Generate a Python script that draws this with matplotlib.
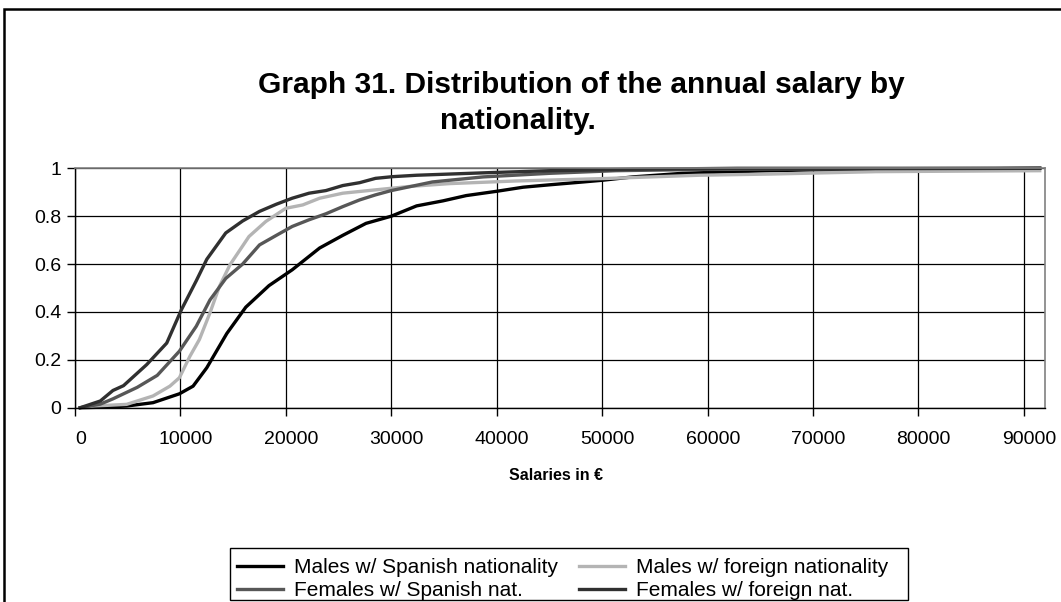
import matplotlib.pyplot as plt
from matplotlib.patches import Rectangle
from matplotlib.ticker import FixedLocator, NullFormatter

plt.rcParams['font.family'] = ['Liberation Sans', 'DejaVu Sans']

title_line1 = "Graph 31. Distribution of the annual salary by"
title_line2 = "nationality."
x_label = "Salaries in \u20ac"

# salary (EUR) and cumulative share
males_es_x = [0, 2000, 4400, 6900, 9400, 10700, 12000, 13900, 15700, 17900, 20100,
              22700, 24900, 27100, 29500, 31900, 34400, 36600, 39500, 42000, 44500,
              47700, 49500, 52400, 57100, 61500, 65500, 69500, 75500, 79500, 85500, 91000]
males_es_y = [0, 0.002, 0.007, 0.021, 0.058, 0.09, 0.167, 0.31, 0.42, 0.51, 0.576,
              0.667, 0.72, 0.77, 0.80, 0.843, 0.864, 0.886, 0.904, 0.921, 0.931,
              0.943, 0.95, 0.964, 0.979, 0.985, 0.99, 0.993, 0.995, 0.997, 0.998, 1.0]

males_fo_x = [0, 1300, 4400, 6900, 8500, 9400, 10400, 11300, 12300, 13200, 14200,
              16000, 17600, 19500, 21100, 22700, 24900, 28000, 31200, 35000, 41300,
              49500, 58700, 65500, 75500, 91000]
males_fo_y = [0, 0.007, 0.014, 0.049, 0.09, 0.125, 0.215, 0.285, 0.396, 0.507, 0.597,
              0.715, 0.778, 0.833, 0.847, 0.875, 0.896, 0.91, 0.924, 0.936, 0.947,
              0.957, 0.971, 0.976, 0.986, 0.99]

females_es_x = [0, 1900, 3100, 5400, 7300, 9400, 11000, 12300, 13800, 15400, 17000,
                18600, 20100, 21700, 23300, 24900, 26500, 28000, 29500, 33400, 38200,
                44500, 50800, 58700, 65500, 91000]
females_es_y = [0, 0.015, 0.037, 0.085, 0.135, 0.236, 0.34, 0.45, 0.54, 0.60, 0.68,
                0.72, 0.757, 0.785, 0.81, 0.84, 0.868, 0.889, 0.907, 0.943, 0.964,
                0.979, 0.99, 0.995, 0.997, 1.0]

females_fo_x = [0, 1900, 3100, 4100, 6300, 8200, 9600, 11000, 12000, 13800, 15400,
                17000, 18600, 20100, 21700, 23300, 24900, 26500, 28000, 29600, 31900,
                38200, 44500, 52400, 62300, 91000]
females_fo_y = [0, 0.028, 0.072, 0.092, 0.18, 0.27, 0.41, 0.53, 0.62, 0.73, 0.78,
                0.82, 0.85, 0.875, 0.896, 0.907, 0.928, 0.94, 0.958, 0.965, 0.971,
                0.981, 0.99, 0.996, 1.0, 1.0]

series_names = ["Males w/ Spanish nationality", "Males w/ foreign nationality",
                "Females w/ Spanish nat.", "Females w/ foreign nat."]
x_tick_values = list(range(0, 90001, 10000))
y_tick_values = [0, 0.2, 0.4, 0.6, 0.8, 1]

W, H = 1061, 602
fig = plt.figure(figsize=(W / 100, H / 100), dpi=100)
fig.patches.append(Rectangle((4 / W, -0.05), 1.2, 1.05 - 9 / H, transform=fig.transFigure,
                             fill=False, edgecolor='black', linewidth=1.8))

ax = fig.add_axes([75 / W, 1 - 407.7 / H, 970 / W, 239.4 / H])

h_ms, = ax.plot(males_es_x, males_es_y, color='#000000', lw=2.4, clip_on=False)
h_mf, = ax.plot(males_fo_x, males_fo_y, color='#b4b4b4', lw=2.4, clip_on=False)
h_fs, = ax.plot(females_es_x, females_es_y, color='#575757', lw=2.4, clip_on=False)
h_ff, = ax.plot(females_fo_x, females_fo_y, color='#303030', lw=2.4, clip_on=False)

# category-style axis: ticks and grid between categories, labels on them
ax.set_xlim(-500, 91500)
ax.set_ylim(0, 1)
ax.xaxis.set_major_locator(FixedLocator([v - 500 for v in x_tick_values]))
ax.xaxis.set_major_formatter(NullFormatter())
ax.xaxis.set_minor_locator(FixedLocator(x_tick_values))
ax.set_xticklabels([str(v) for v in x_tick_values], minor=True)
ax.tick_params(axis='x', which='major', length=6, width=1, direction='out')
ax.tick_params(axis='x', which='minor', length=0, pad=17, labelsize=14)
ax.set_yticks(y_tick_values)
ax.set_yticklabels(["0", "0.2", "0.4", "0.6", "0.8", "1"])
ax.tick_params(axis='y', length=6, width=1, direction='out', pad=4, labelsize=14)

ax.grid(True, which='major', color='black', linewidth=0.9)
ax.set_axisbelow(True)
for side in ['left', 'bottom']:
    ax.spines[side].set_color('black')
    ax.spines[side].set_linewidth(1)
for side in ['top', 'right']:
    ax.spines[side].set_color('#808080')
    ax.spines[side].set_linewidth(1.2)

fig.text(581 / W, 1 - 85 / H, title_line1, ha='center', va='center',
         fontsize=21.5, fontweight='bold')
fig.text(518 / W, 1 - 121 / H, title_line2, ha='center', va='center',
         fontsize=21.5, fontweight='bold')
fig.text(556 / W, 1 - 475 / H, x_label, ha='center', va='center',
         fontsize=11.5, fontweight='bold')

# legend box drawn separately so the rows can sit low in it
fig.patches.append(Rectangle((230 / W, 1 - 600 / H), 678 / W, 52 / H,
                             transform=fig.transFigure, fill=False,
                             edgecolor='black', linewidth=1))
leg = fig.legend([h_ms, h_fs, h_mf, h_ff],
                 [series_names[0], series_names[2], series_names[1], series_names[3]],
                 ncol=2, loc='upper left', bbox_to_anchor=(237 / W, 1 - 558 / H),
                 fontsize=15, frameon=False, borderaxespad=0,
                 handlelength=2.2, handletextpad=0.55, columnspacing=1.0,
                 labelspacing=0.2, borderpad=0)

fig.savefig("out.png", dpi=100)
